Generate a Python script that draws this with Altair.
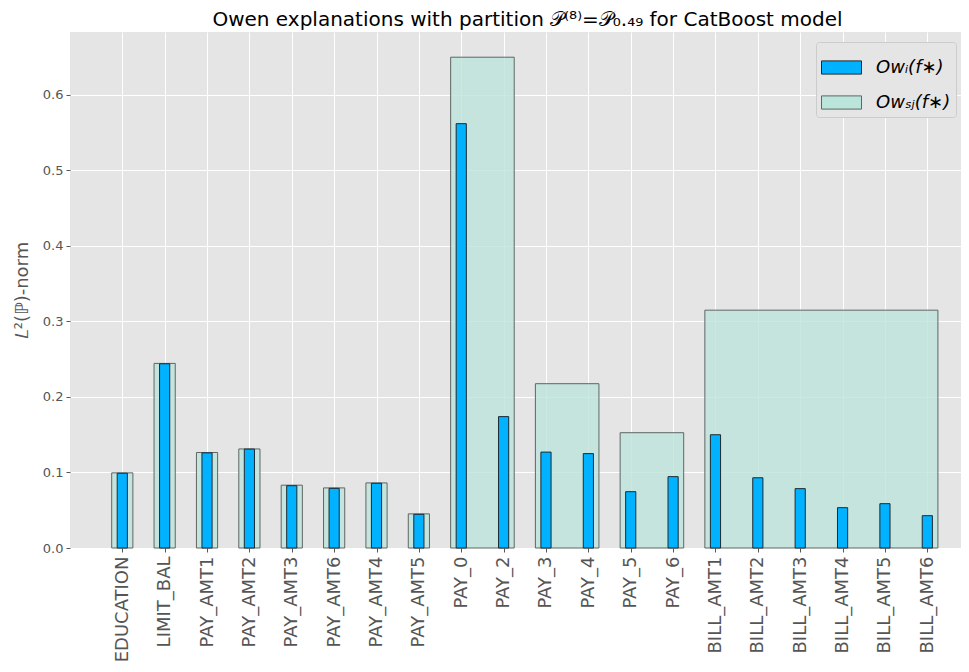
import altair as alt
import pandas as pd

features = ["EDUCATION", "LIMIT_BAL", "PAY_AMT1", "PAY_AMT2", "PAY_AMT3", "PAY_AMT6",
            "PAY_AMT4", "PAY_AMT5", "PAY_0", "PAY_2", "PAY_3", "PAY_4", "PAY_5", "PAY_6",
            "BILL_AMT1", "BILL_AMT2", "BILL_AMT3", "BILL_AMT4", "BILL_AMT5", "BILL_AMT6"]
owen_i = [0.099, 0.244, 0.126, 0.131, 0.0825, 0.079, 0.0857, 0.0446, 0.562, 0.174,
          0.127, 0.125, 0.0746, 0.0945, 0.150, 0.093, 0.0786, 0.0534, 0.0587, 0.0428]

groups = [["EDUCATION"], ["LIMIT_BAL"], ["PAY_AMT1"], ["PAY_AMT2"], ["PAY_AMT3"],
          ["PAY_AMT6"], ["PAY_AMT4"], ["PAY_AMT5"], ["PAY_0", "PAY_2"],
          ["PAY_3", "PAY_4"], ["PAY_5", "PAY_6"],
          ["BILL_AMT1", "BILL_AMT2", "BILL_AMT3", "BILL_AMT4", "BILL_AMT5", "BILL_AMT6"]]
owen_groups = [0.0995, 0.2445, 0.1265, 0.1312, 0.0832, 0.0796, 0.0862, 0.0452,
               0.650, 0.2176, 0.1527, 0.315]

LAB_I = "Owᵢ(f∗)"
LAB_S = "Owₛⱼ(f∗)"

rows = []
for g, v in zip(groups, owen_groups):
    idx = [features.index(f) for f in g]
    rows.append({"lo": min(idx), "hi": max(idx), "val": v, "series": LAB_S, "half": 0.25})
for i, (f, v) in enumerate(zip(features, owen_i)):
    rows.append({"lo": i, "hi": i, "val": v, "series": LAB_I, "half": 0.12})
df = pd.DataFrame(rows)

label_expr = "[" + ",".join("'%s'" % f for f in features) + "][datum.value]"

x_scale = alt.Scale(domain=[-1.234, 19.795], nice=False, zero=False)
y_scale = alt.Scale(domain=[0, 0.6834], nice=False)

leg = dict(title=None, orient="none", legendX=746, legendY=10)

chart = alt.Chart(df).transform_calculate(
    x0="datum.lo - datum.half", x1="datum.hi + datum.half", base="0"
).mark_bar(strokeWidth=1).encode(
    x=alt.X("x0:Q", scale=x_scale,
            axis=alt.Axis(values=list(range(len(features))), labelExpr=label_expr,
                          labelAngle=270, labelFontSize=18, labelColor="#555555",
                          labelPadding=4, tickColor="#555555", tickSize=4,
                          domain=False, grid=True, gridColor="white", gridWidth=1,
                          title=None)),
    x2="x1:Q",
    y=alt.Y("val:Q", scale=y_scale,
            axis=alt.Axis(values=[0, 0.1, 0.2, 0.3, 0.4, 0.5, 0.6], format=".1f",
                          labelFontSize=13, labelColor="#555555", labelPadding=3,
                          tickColor="#555555", tickSize=4, domain=False,
                          grid=True, gridColor="white", gridWidth=1,
                          title="𝐿²(ℙ)-norm", titleFontSize=18, titleColor="#555555",
                          titleFontWeight="normal", titlePadding=11)),
    y2="base:Q",
    fill=alt.Fill("series:N",
                  scale=alt.Scale(domain=[LAB_I, LAB_S], range=["#00b2ff", "#bbe4db"]),
                  legend=alt.Legend(**leg)),
    stroke=alt.Stroke("series:N",
                      scale=alt.Scale(domain=[LAB_I, LAB_S], range=["#1c2a33", "#5f6664"]),
                      legend=alt.Legend(**leg)),
    fillOpacity=alt.FillOpacity("series:N",
                                scale=alt.Scale(domain=[LAB_I, LAB_S], range=[1.0, 0.8]),
                                legend=alt.Legend(**leg)),
    order=alt.Order("half:Q", sort="descending"),
).properties(
    width=891, height=516,
    title=alt.Title("Owen explanations with partition 𝒫⁽⁸⁾=𝒫₀.₄₉ for CatBoost model",
                    fontSize=20, fontWeight="normal", color="black", offset=2, dx=12,
                    font="DejaVu Sans"),
    autosize=alt.AutoSizeParams(type="none"),
    padding={"left": 62, "top": 24, "right": 0, "bottom": 115},
).configure(
    font="DejaVu Sans",
).configure_view(
    fill="#e5e5e5", stroke=None,
).configure_legend(
    fillColor="#e5e5e5", strokeColor="#cccccc", cornerRadius=3, padding=5,
    labelFontSize=18, labelFont="DejaVu Sans", labelFontStyle="italic", labelColor="black",
    symbolType="M-1,-0.33L1,-0.33L1,0.33L-1,0.33Z", symbolSize=1600,
    symbolStrokeWidth=1, rowPadding=5, labelOffset=14,
)

chart.save("out.html", embed_options={"renderer": "svg", "actions": False})
